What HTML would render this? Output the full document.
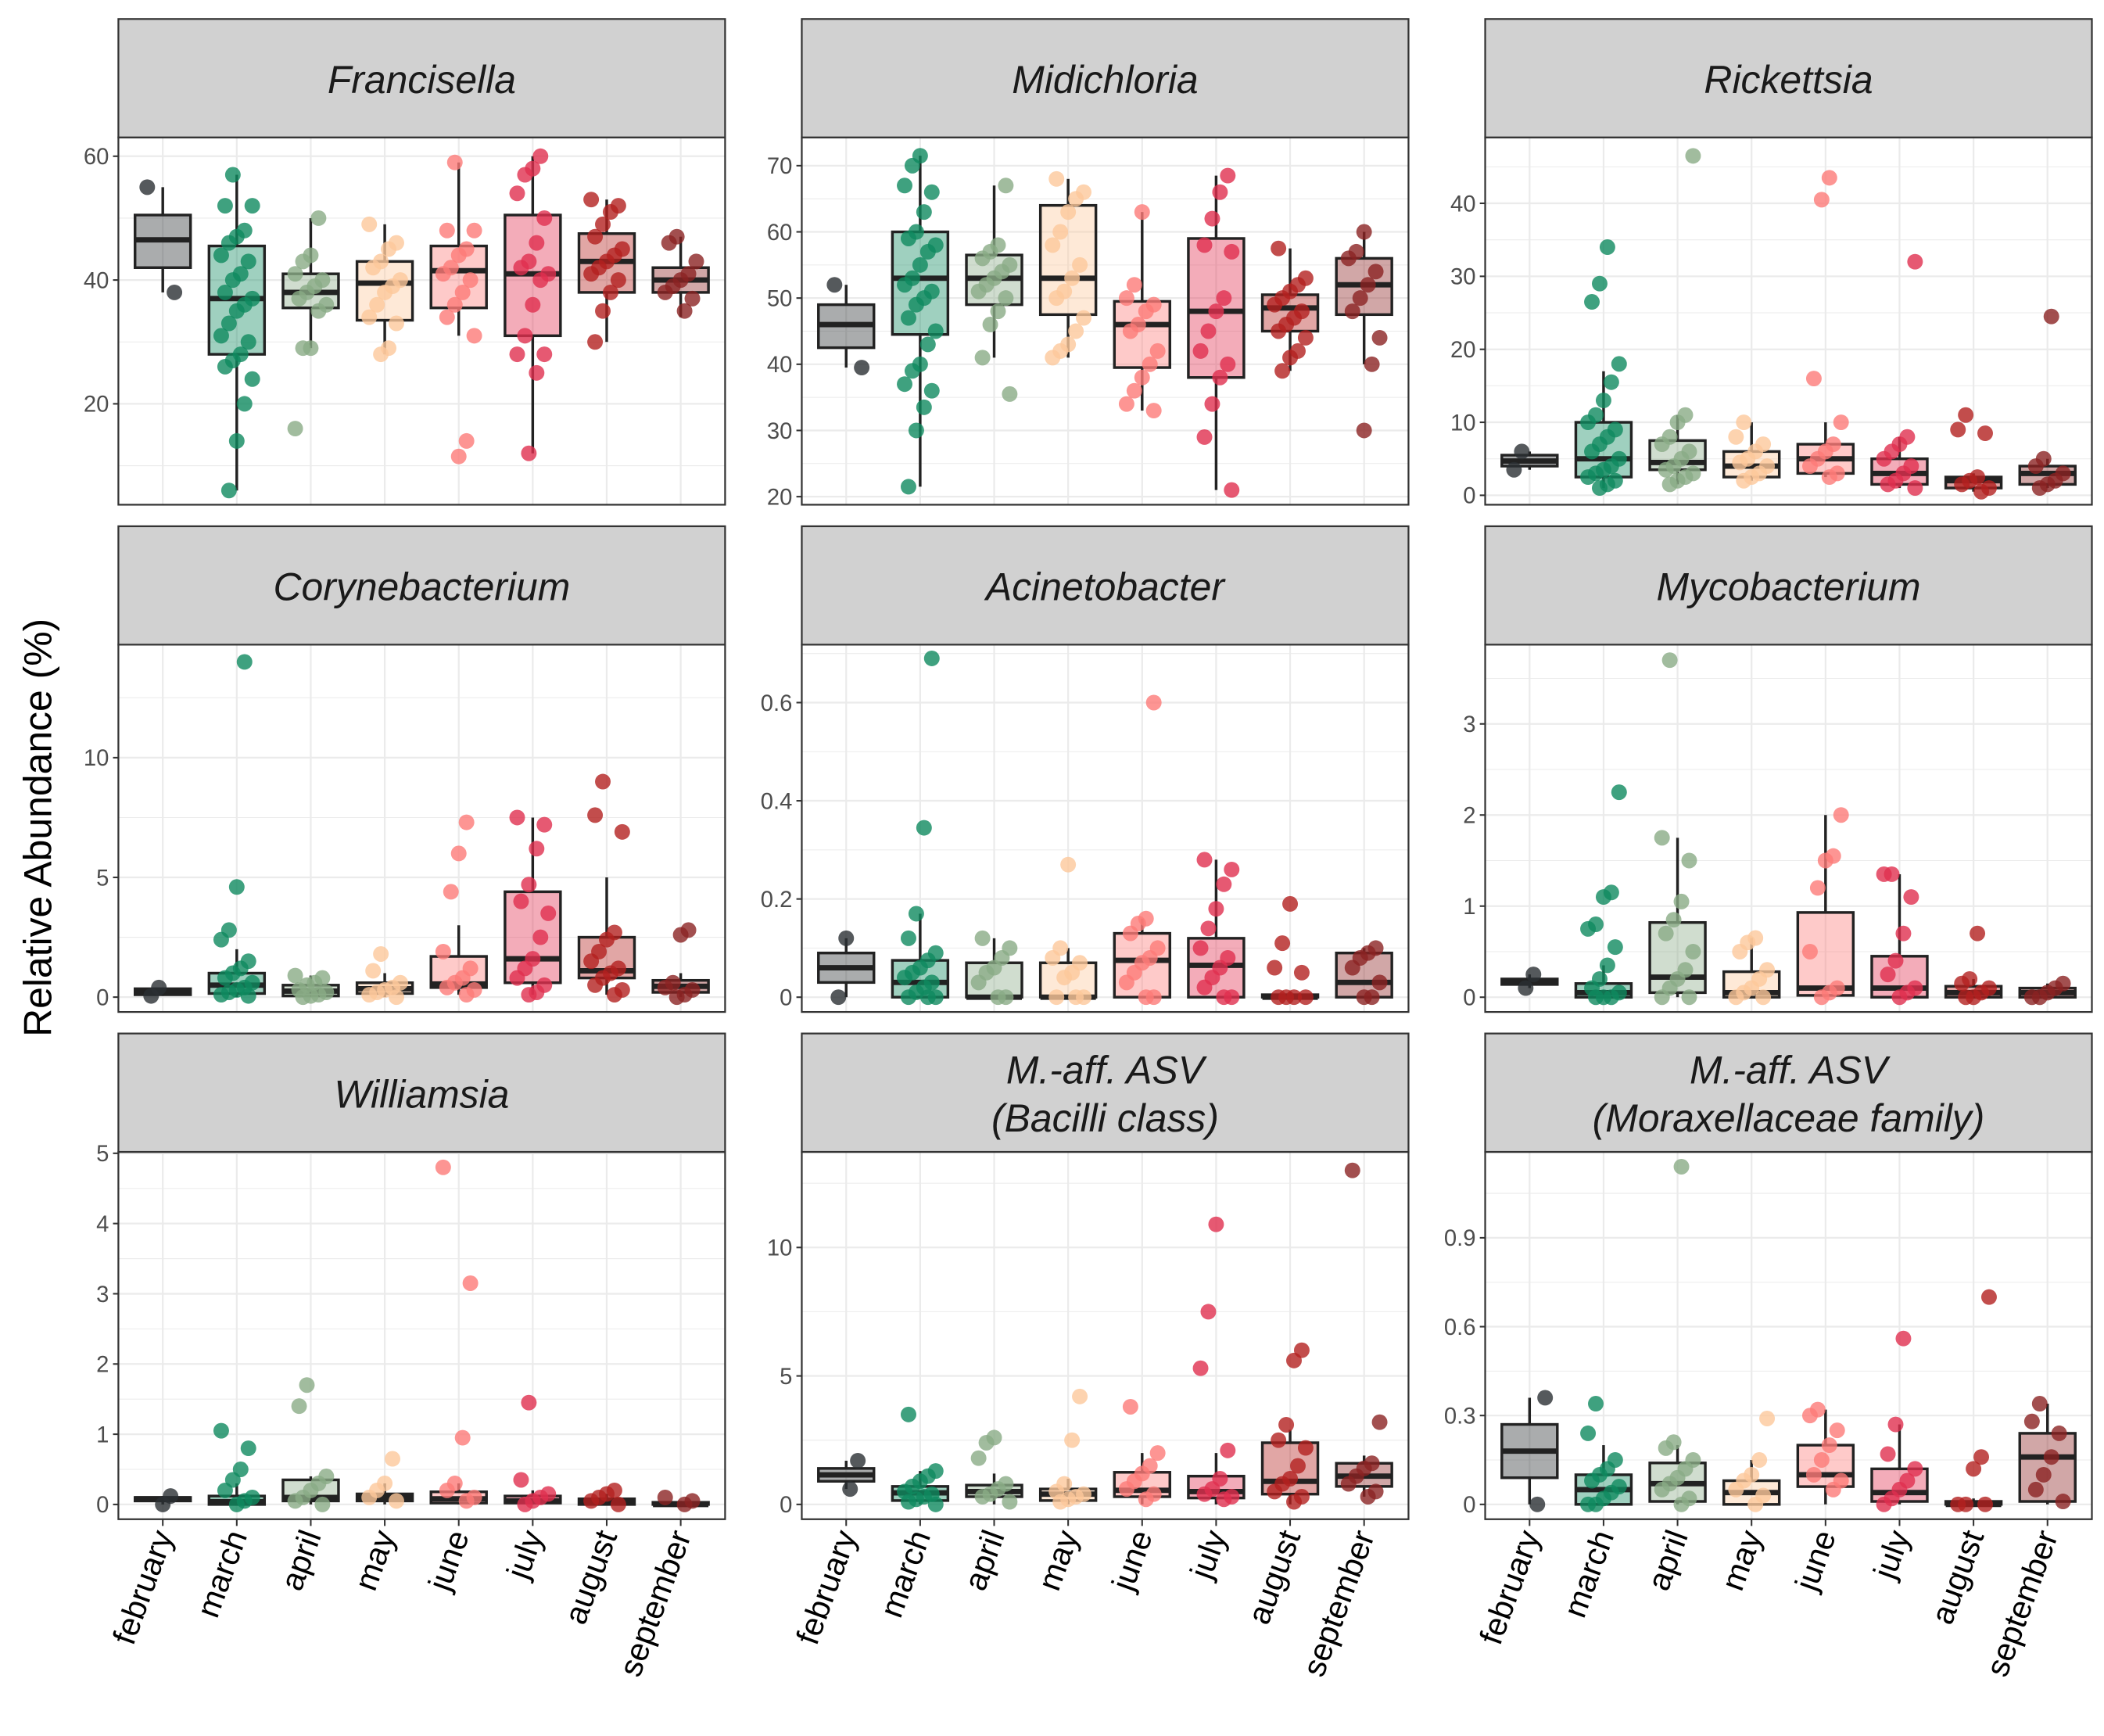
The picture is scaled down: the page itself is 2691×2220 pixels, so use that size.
<!DOCTYPE html>
<html><head><meta charset="utf-8"><style>
html,body{margin:0;padding:0;background:#fff}
svg{display:block}
text{font-family:"Liberation Sans",Arial,sans-serif}
</style></head><body>
<svg id="chart" width="2691" height="2220" viewBox="0 0 1564 1290" xmlns="http://www.w3.org/2000/svg">
<rect width="1564" height="1290" fill="#fff"/>
<text transform="translate(38,615) rotate(-90)" text-anchor="middle" font-size="29" fill="#000">Relative Abundance (%)</text>
</svg>
<script>
const months = ["february","march","april","may","june","july","august","september"];
const colors = ["#2b2f33","#0f8a5f","#8aab86","#fcc89b","#fd7a78","#e0304f","#b3201f","#8b2323"];
const panelTitles = [["Francisella"],["Midichloria"],["Rickettsia"],["Corynebacterium"],["Acinetobacter"],["Mycobacterium"],["Williamsia"],["M.-aff. ASV","(Bacilli class)"],["M.-aff. ASV","(Moraxellaceae family)"]];
const yTicks = [[20,40,60],[20,30,40,50,60,70],[0,10,20,30,40],[0,5,10],[0,0.2,0.4,0.6],[0,1,2,3],[0,1,2,3,4,5],[0,5,10],[0,0.3,0.6,0.9]];
const yDomains = [[3.7,63.04],[18.78,74.27],[-1.29,49.03],[-0.62,14.72],[-0.0301,0.718],[-0.162,3.87],[-0.21,5.02],[-0.576,13.72],[-0.05,1.19]];
// boxes: [lower whisker, q1, median, q3, upper whisker] per month
const boxes = [
[[38,42,46.5,50.5,55],[6,28,37,45.5,57],[29,35.5,38,41,50],[28,33.5,39.5,43,49],[31,35.5,41.5,45.5,59],[12,31,41,50.5,60],[30,38,43,47.5,53],[34,38,40,42,47]],
[[39.5,42.5,46,49,52],[21.5,44.5,53,60,71.5],[41,49,53,56.5,67],[41,47.5,53,64,68],[33,39.5,46,49.5,63],[21,38,48,59,68.5],[39,45,48.5,50.5,57.5],[40,47.5,52,56,60]],
[[3.5,4,4.7,5.5,6],[1,2.5,5,10,17],[1.5,3.5,4.5,7.5,11],[2,2.5,4,6,10],[2.5,3,5,7,10],[1,1.5,3,5,8],[0.5,1,2,2.5,3],[1,1.5,3,4,5]],
[[0.05,0.1,0.25,0.35,0.4],[0,0.15,0.5,1,2],[0,0.05,0.25,0.5,0.9],[0,0.15,0.35,0.6,1],[0.1,0.4,0.55,1.7,3],[0.1,0.6,1.6,4.4,7.5],[0.1,0.8,1.1,2.5,5],[0,0.2,0.45,0.7,1]],
[[0,0.03,0.06,0.09,0.12],[0,0,0.03,0.075,0.17],[0,0,0,0.07,0.12],[0,0,0,0.07,0.1],[0,0,0.075,0.13,0.16],[0,0,0.065,0.12,0.28],[0,0,0,0.005,0.01],[0,0,0.03,0.09,0.1]],
[[0.1,0.14,0.17,0.2,0.25],[0,0,0.05,0.15,0.35],[0,0.05,0.22,0.82,1.75],[0,0,0.05,0.28,0.65],[0,0.02,0.1,0.93,2],[0,0,0.1,0.45,1.35],[0,0,0.05,0.12,0.2],[0,0,0.05,0.1,0.15]],
[[0,0.05,0.08,0.1,0.12],[0,0,0.04,0.12,0.3],[0,0.05,0.1,0.35,0.4],[0,0.05,0.1,0.15,0.3],[0,0.02,0.08,0.18,0.3],[0,0.02,0.05,0.12,0.2],[0,0,0.03,0.08,0.15],[0,0,0,0.03,0.05]],
[[0.6,0.9,1.15,1.4,1.7],[0,0.15,0.45,0.7,1.3],[0,0.3,0.5,0.75,1.2],[0,0.15,0.4,0.6,1],[0,0.3,0.55,1.25,2],[0,0.25,0.5,1.1,2],[0,0.4,0.9,2.4,2.9],[0.3,0.7,1.1,1.6,1.9]],
[[0,0.09,0.18,0.27,0.36],[0,0,0.05,0.1,0.2],[0,0.01,0.07,0.14,0.2],[0,0,0.04,0.08,0.15],[0,0.06,0.1,0.2,0.32],[0,0.01,0.04,0.12,0.27],[0,0,0,0.01,0.02],[0,0.01,0.16,0.24,0.34]]
];
// points per panel per month
const points = [
[[55,38],[57,52,52,48,47,46,44,43,41,40,38,37,36,35,33,31,30,28,27,26,24,20,14,6],[50,44,43,41,40,39,38,37,36,35,29,29,16],[49,46,45,43,42,40,39,38,36,34,33,29,28],[59,48,48,45,44,42,41,40,38,36,34,31,14,11.5],[60,58,57,54,50,46,43,42,41,40,36,31,28,28,25,12],[53,52,51,49,47,45,44,43,42,41,40,38,35,30],[47,46,43,41,40,39,38,37,35]],
[[52,39.5],[71.5,70,67,66,63,60,59,58,57,55,53,52,51,50,49,47,45,43,40,39,37,36,33.5,30,21.5],[67,58,57,56,55,54,53,52,51,50,48,46,41,35.5],[68,66,65,63,60,58,55,53,51,50,47,45,43,42,41],[63,52,50,49,48,46,45,42,40,38,36,34,33],[68.5,66,62,58,57,50,48,45,42,40,38,34,29,21],[57.5,53,52,51,50,49,48,47,46,45,44,42,41,39],[60,57,56,54,52,50,48,44,40,30]],
[[6,3.5],[34,29,26.5,18,15.5,13,11,10,9,8,7,6,5,4,3.5,3,2.5,2,1.5,1],[46.5,11,10,8,7,6,5,4,3.5,3,2.5,2,1.5],[10,8,7,6,5,4.5,4,3,2.5,2],[43.5,40.5,16,10,7,6,5,4,3,2.5],[32,8,7,6,5,4,3,2,1.5,1],[11,9,8.5,2.5,2,1.5,1,0.5],[24.5,5,4,3,2,1.5,1]],
[[0.4,0.05],[14,4.6,2.8,2.4,1.5,1.2,1,0.8,0.6,0.4,0.3,0.2,0.1,0.05],[0.9,0.8,0.6,0.5,0.3,0.2,0.1,0.05,0],[1.8,1.1,0.6,0.4,0.3,0.2,0.1,0],[7.3,6,4.4,1.9,1.2,0.8,0.6,0.4,0.3,0.1],[7.5,7.2,6.2,4.7,4,3.5,2.5,1.6,1.2,0.8,0.5,0.2,0.1],[9,7.6,6.9,2.7,2.4,1.9,1.5,1.2,1,0.8,0.5,0.3,0.1],[2.8,2.6,0.6,0.4,0.3,0.1,0]],
[[0.12,0],[0.69,0.345,0.17,0.12,0.09,0.075,0.06,0.05,0.04,0.03,0.02,0.01,0,0,0],[0.12,0.1,0.08,0.06,0.05,0.03,0,0],[0.27,0.1,0.08,0.07,0.05,0.04,0,0,0],[0.6,0.16,0.15,0.13,0.1,0.08,0.07,0.05,0.03,0,0],[0.28,0.26,0.23,0.18,0.14,0.1,0.08,0.06,0.04,0.02,0,0],[0.19,0.11,0.06,0.05,0,0,0,0],[0.1,0.09,0.08,0.06,0.03,0,0]],
[[0.25,0.1],[2.25,1.15,1.1,0.8,0.75,0.55,0.35,0.2,0.1,0.05,0,0,0],[3.7,1.75,1.5,1.05,0.85,0.7,0.5,0.3,0.2,0.1,0,0],[0.65,0.6,0.5,0.3,0.2,0.1,0.05,0,0],[2,1.55,1.5,1.2,0.5,0.1,0.05,0],[1.35,1.35,1.1,0.7,0.4,0.25,0.1,0.05,0],[0.7,0.2,0.15,0.1,0.05,0,0],[0.15,0.1,0.05,0,0]],
[[0.12,0],[1.05,0.8,0.5,0.35,0.2,0.1,0.05,0],[1.7,1.4,0.4,0.3,0.2,0.1,0.05,0],[0.65,0.3,0.2,0.1,0.05],[4.8,3.15,0.95,0.3,0.2,0.1,0.05],[1.45,0.35,0.15,0.1,0.05,0],[0.2,0.15,0.1,0.05,0],[0.1,0.05,0]],
[[1.7,0.6],[3.5,1.3,1.1,0.9,0.7,0.5,0.4,0.3,0.2,0.1,0],[2.6,2.4,1.8,0.8,0.6,0.4,0.3,0.1],[4.2,2.5,0.8,0.5,0.4,0.3,0.2,0.1],[3.8,2,1.5,1.2,0.9,0.6,0.4,0.2],[10.9,7.5,5.3,2.1,1,0.6,0.4,0.3,0.2],[6,5.6,3.1,2.5,2.2,1.5,1,0.8,0.5,0.3,0.1],[13,3.2,1.6,1.4,1.1,0.8,0.5,0.3]],
[[0.36,0],[0.34,0.24,0.15,0.12,0.1,0.08,0.06,0.04,0.02,0,0],[1.14,0.21,0.19,0.15,0.12,0.09,0.07,0.05,0.02,0],[0.29,0.15,0.1,0.08,0.05,0.03,0],[0.32,0.3,0.25,0.2,0.15,0.1,0.08,0.05],[0.56,0.27,0.17,0.12,0.08,0.05,0.02,0],[0.7,0.16,0.12,0,0,0],[0.34,0.28,0.24,0.16,0.1,0.05,0.01]]
];

const NS = "http://www.w3.org/2000/svg";
const svg = document.getElementById("chart");
function mk(tag, attrs, parent){const e=document.createElementNS(NS,tag);for(const k in attrs)e.setAttribute(k,attrs[k]);(parent||svg).appendChild(e);return e;}
const colX = [88,596,1104], panelW = 451;
const rowY = [14,391,768], stripH = 88, plotH = 273;

for (let p = 0; p < 9; p++) {
  const c = p % 3, r = Math.floor(p / 3);
  const x0 = colX[c], sy = rowY[r], y0 = sy + stripH, y1 = y0 + plotH;
  const g = mk("g", {});
  
  
  const [d0, d1] = yDomains[p];
  const yS = v => y1 - (v - d0) / (d1 - d0) * plotH;
  const unit = panelW / 8.2;
  const xS = i => x0 + (0.6 + i) * unit;
  mk("rect", {x:x0, y:y0, width:panelW, height:plotH, fill:"#fff"}, g);
  const tk = yTicks[p], step = tk[1] - tk[0];
  for (let v = tk[0] - step * 1.5; v <= d1; v += step / 2) {
    if (v < d0) continue;
    const isMajor = Math.abs(((v - tk[0]) / step) - Math.round((v - tk[0]) / step)) < 1e-6;
    mk("line", {x1:x0, x2:x0+panelW, y1:yS(v), y2:yS(v), stroke:"#ebebeb", "stroke-width": isMajor?1.3:0.6}, g);
  }
  for (let i = 0; i < 8; i++) mk("line", {x1:xS(i), x2:xS(i), y1:y0, y2:y1, stroke:"#ebebeb", "stroke-width":1.3}, g);
  for (let i = 0; i < 8; i++) {
    const [lo,q1,md,q3,hi] = boxes[p][i];
    const bx = mk("g", {}, g);
    
    
    const bw = unit * 0.75, xc = xS(i);
    mk("line", {x1:xc, x2:xc, y1:yS(hi), y2:yS(q3), stroke:"#222", "stroke-width":2}, bx);
    mk("line", {x1:xc, x2:xc, y1:yS(q1), y2:yS(lo), stroke:"#222", "stroke-width":2}, bx);
    mk("rect", {x:xc-bw/2, y:yS(q3), width:bw, height:Math.max(0.5, yS(q1)-yS(q3)), fill:colors[i], "fill-opacity":0.4, stroke:"#222", "stroke-width":2}, bx);
    mk("line", {x1:xc-bw/2, x2:xc+bw/2, y1:yS(md), y2:yS(md), stroke:"#222", "stroke-width":4}, bx);
  }
  for (let i = 0; i < 8; i++) {
    const pts = points[p][i];
    pts.forEach((v, k) => {
      const off = ((((k * 7 + i * 3 + p) % 9) / 8) - 0.5) * 0.42 * unit;
      const pt = mk("circle", {cx:xS(i)+off, cy:yS(v), r:5.8, fill:colors[i], "fill-opacity":0.8}, g);
      
      
    });
  }
  mk("rect", {x:x0, y:y0, width:panelW, height:plotH, fill:"none", stroke:"#333", "stroke-width":1.3}, g);
  tk.forEach(v => {
    mk("line", {x1:x0-4, x2:x0, y1:yS(v), y2:yS(v), stroke:"#333", "stroke-width":1.2}, g);
    const t = mk("text", {x:x0-7, y:yS(v)+6, "text-anchor":"end", "font-size":17, fill:"#4d4d4d"}, g);
    t.textContent = String(v);
    
    
  });
  const st = mk("rect", {x:x0, y:sy, width:panelW, height:stripH, fill:"#d1d1d1", stroke:"#333", "stroke-width":1.3}, g);
  
  
  const lines = panelTitles[p];
  lines.forEach((ln, k) => {
    const ty = lines.length === 1 ? sy + 55 : sy + 37 + k * 36;
    const t = mk("text", {x:x0+panelW/2, y:ty, "text-anchor":"middle", "font-size":29, "font-style":"italic", fill:"#1a1a1a"}, g);
    t.textContent = ln;
    
    
  });
  if (r === 2) {
    for (let i = 0; i < 8; i++) {
      mk("line", {x1:xS(i), x2:xS(i), y1:y1, y2:y1+5, stroke:"#333", "stroke-width":1.2}, g);
      const t = mk("text", {transform:`translate(${xS(i)+8},${y1+12}) rotate(-70)`, "text-anchor":"end", "font-size":24, fill:"#000"}, g);
      t.textContent = months[i];
      
      
    }
  }
}
</script>
</body></html>
